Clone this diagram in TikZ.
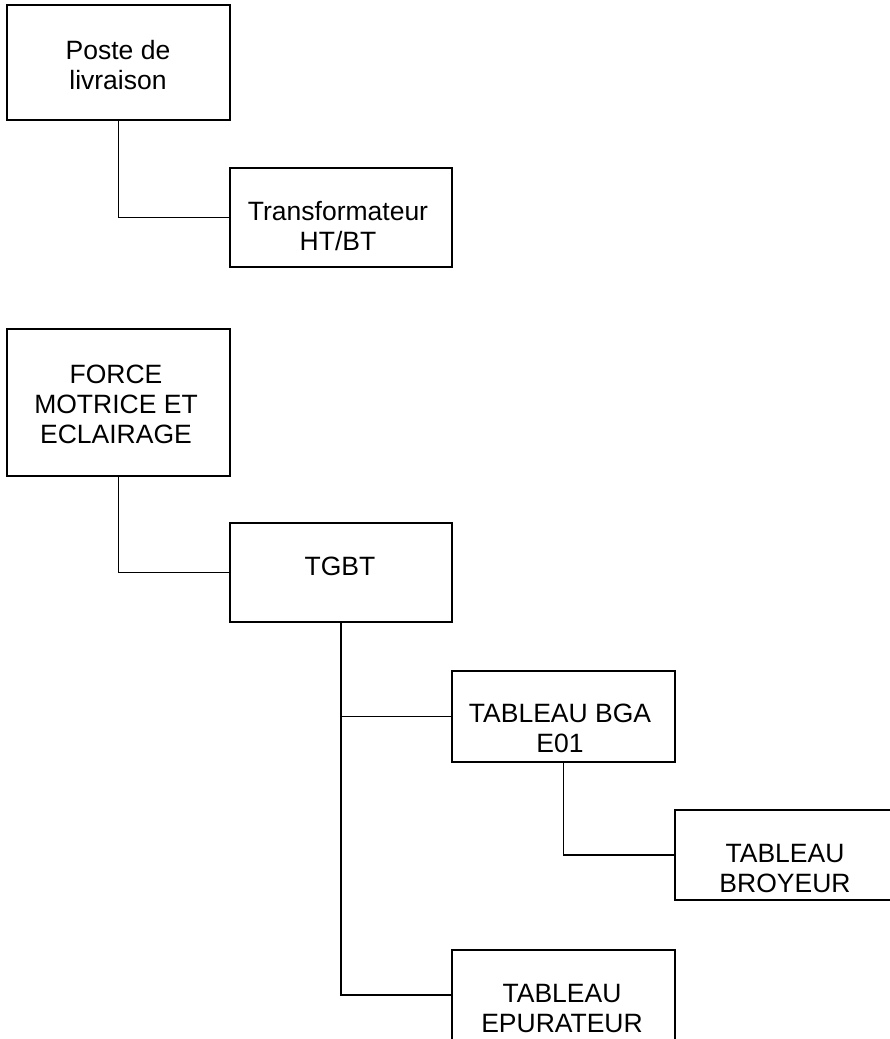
\documentclass[tikz,border=0pt]{standalone}
\usepackage{fontspec}
\setmainfont{Liberation Sans}
\begin{document}
\begin{tikzpicture}[x=1pt,y=-1pt,
  box/.style={draw,line width=2pt,minimum width=223pt,inner sep=0pt,outer sep=0pt},
  lbl/.style={inner sep=0pt,align=center,font=\fontsize{26.5}{30}\selectfont},
  wire/.style={line width=1.6pt}]
\useasboundingbox (0,0) rectangle (890,1039);
\clip (0,0) rectangle (890,1039);
% boxes
\node[box,minimum height=115pt] (poste) at (118.5,62.5) {};
\node[box,minimum width=222pt,minimum height=99pt] (transfo) at (341,217.5) {};
\node[box,minimum height=147pt] (force) at (118.5,402.5) {};
\node[box,minimum width=222pt,minimum height=99pt] (tgbt) at (341,572.5) {};
\node[box,minimum height=91pt] (bga) at (563.5,716.5) {};
\node[box,minimum height=90pt] (broyeur) at (786,855) {};
\node[box,minimum height=90pt] (epur) at (563.5,995) {};
% labels
\node[lbl] (tposte) at (118,65.5) {Poste de\\livraison};
\node[lbl] (ttransfo) at (338,226) {Transformateur\\HT/BT};
\node[lbl] (tforce) at (116,404) {FORCE\\MOTRICE ET\\ECLAIRAGE};
\node[lbl] (ttgbt) at (340,566) {TGBT};
\node[lbl] (tbga) at (560,728) {TABLEAU BGA\\E01};
\node[lbl] (tbroyeur) at (785,869) {TABLEAU\\BROYEUR};
\node[lbl] (tepur) at (562,1009) {TABLEAU\\EPURATEUR};
% connectors
\draw[wire] (poste.south) |- (transfo.west);
\draw[wire] (force.south) |- (tgbt.west);
\draw[wire] (tgbt.south) |- (bga.west);
\draw[wire] (tgbt.south) |- (epur.west);
\draw[wire] (bga.south) |- (broyeur.west);
\end{tikzpicture}
\end{document}
